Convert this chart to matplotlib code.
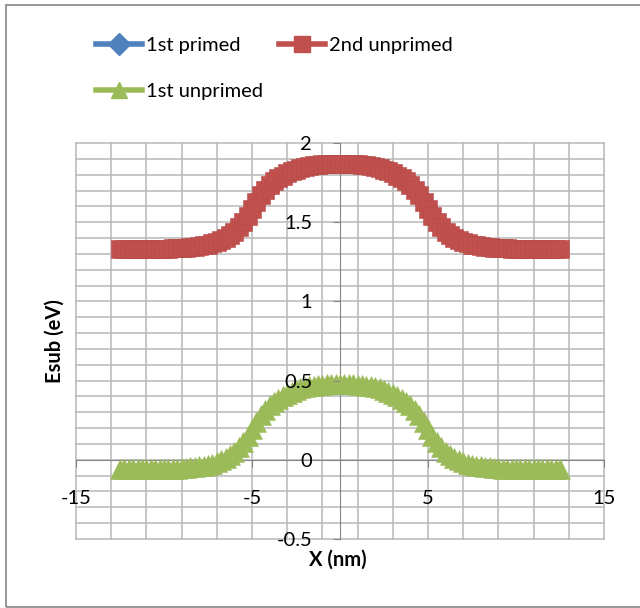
import numpy as np
import matplotlib.pyplot as plt
from matplotlib.lines import Line2D

# sub-band energies, x from -12.5 to 12.5 nm in 0.25 nm steps
x_nm = np.arange(-12.5, 12.51, 0.25)

second_unprimed = [
    1.330, 1.330, 1.330, 1.330, 1.330, 1.331, 1.331, 1.331, 1.331, 1.332, 1.332,
    1.333, 1.334, 1.335, 1.337, 1.339, 1.342, 1.345, 1.349, 1.353, 1.359,
    1.366, 1.375, 1.387, 1.401, 1.419, 1.441, 1.469, 1.502, 1.541, 1.584,
    1.630, 1.670, 1.705, 1.734, 1.757, 1.776, 1.793, 1.808, 1.821, 1.832,
    1.841, 1.847, 1.853, 1.858, 1.861, 1.865, 1.867, 1.869, 1.870, 1.870,
    1.870, 1.869, 1.867, 1.865, 1.861, 1.858, 1.853, 1.847, 1.841, 1.832,
    1.821, 1.808, 1.793, 1.776, 1.757, 1.734, 1.705, 1.670, 1.630, 1.584,
    1.541, 1.502, 1.469, 1.441, 1.419, 1.401, 1.387, 1.375, 1.366, 1.359,
    1.353, 1.349, 1.345, 1.342, 1.339, 1.337, 1.335, 1.334, 1.333, 1.332,
    1.332, 1.331, 1.331, 1.331, 1.331, 1.330, 1.330, 1.330, 1.330, 1.330,
]

first_unprimed = [
    -0.060, -0.060, -0.060, -0.060, -0.060, -0.059, -0.059, -0.059, -0.059, -0.058, -0.058,
    -0.057, -0.056, -0.055, -0.053, -0.051, -0.048, -0.045, -0.041, -0.037, -0.031,
    -0.024, -0.015, -0.003, 0.011, 0.029, 0.051, 0.079, 0.112, 0.151, 0.194,
    0.240, 0.280, 0.315, 0.344, 0.367, 0.386, 0.403, 0.418, 0.431, 0.442,
    0.451, 0.457, 0.463, 0.468, 0.471, 0.475, 0.477, 0.479, 0.480, 0.480,
    0.480, 0.479, 0.477, 0.475, 0.471, 0.468, 0.463, 0.457, 0.451, 0.442,
    0.431, 0.418, 0.403, 0.386, 0.367, 0.344, 0.315, 0.280, 0.240, 0.194,
    0.151, 0.112, 0.079, 0.051, 0.029, 0.011, -0.003, -0.015, -0.024, -0.031,
    -0.037, -0.041, -0.045, -0.048, -0.051, -0.053, -0.055, -0.056, -0.057, -0.058,
    -0.058, -0.059, -0.059, -0.059, -0.059, -0.060, -0.060, -0.060, -0.060, -0.060,
]

# 1st primed lies under the 1st unprimed curve
first_primed = list(first_unprimed)

blue = '#4F81BD'
red = '#C0504D'
green = '#9BBB59'

plt.rcParams['font.family'] = ['Lato', 'DejaVu Sans']

fig = plt.figure(figsize=(6.4, 6.08), dpi=100)
ax = fig.add_axes([76 / 640, 1 - 539 / 608, 528 / 640, 396 / 608])

ax.plot(x_nm, first_primed, color=blue, lw=1, marker='D', ms=4, zorder=3)
ax.plot(x_nm, second_unprimed, color=red, lw=3, marker='s', ms=13.5,
        mec='#BA4A46', mew=0.4, zorder=4)
ax.plot(x_nm, first_unprimed, color=green, lw=3, marker='^', ms=14,
        mec=green, mew=0.4, zorder=5)

ax.set_xlim(-15, 15)
ax.set_ylim(-0.5, 2)

# grid: every 2 nm starting at -15, every 0.1 eV
for gx in np.arange(-15, 15.1, 2):
    ax.axvline(gx, color='#B8B8B8', lw=1.1, zorder=1, clip_on=False)
for gy in np.arange(-0.5, 2.01, 0.1):
    ax.axhline(gy, color='#B8B8B8', lw=1.1, zorder=1, clip_on=False)

for s in ['top', 'right']:
    ax.spines[s].set_visible(False)
ax.spines['left'].set_position(('data', 0))
ax.spines['bottom'].set_position(('data', 0))
ax.spines['left'].set_color('#868686')
ax.spines['bottom'].set_color('#868686')
ax.spines['left'].set_zorder(2)
ax.spines['bottom'].set_zorder(2)
ax.xaxis.set_zorder(10)
ax.yaxis.set_zorder(10)

ax.set_xticks([-15, -5, 5, 15])
ax.set_xticklabels(['-15', '-5', '5', '15'])
ax.set_yticks([-0.5, 0, 0.5, 1, 1.5, 2])
ax.set_yticklabels(['-0.5', '0', '0.5', '1', '1.5', '2'])
ax.tick_params(axis='x', direction='out', length=5, color='#868686', pad=17, labelsize=14.5)
ax.tick_params(axis='y', direction='out', length=5, color='#868686', pad=15, labelsize=14.5)

fig.text(55 / 640, 1 - 341 / 608, 'Esub (eV)', rotation=90, ha='center', va='center',
         fontsize=14.5, fontweight='bold')
fig.text(338 / 640, 1 - 560 / 608, 'X (nm)', ha='center', va='center',
         fontsize=14.5, fontweight='bold')

handles = [
    Line2D([], [], color=blue, lw=4, marker='D', ms=11),
    Line2D([], [], color=green, lw=4, marker='^', ms=12),
    Line2D([], [], color=red, lw=4, marker='s', ms=11),
]
labels = ['1st primed', '1st unprimed', '2nd unprimed']
fig.legend(handles, labels, ncol=2, frameon=False, fontsize=14.5,
           loc='upper left', bbox_to_anchor=(86 / 640, 1 - 27 / 608),
           borderpad=0, handlelength=2.3, handletextpad=0.2,
           columnspacing=0.75, labelspacing=1.45)

# chart area border
fig.add_artist(plt.Rectangle((6 / 640, 1 / 608), 640 / 640, 602 / 608,
                             transform=fig.transFigure, fill=False,
                             edgecolor='#868686', lw=1.2))

fig.savefig('out.png', dpi=100)
